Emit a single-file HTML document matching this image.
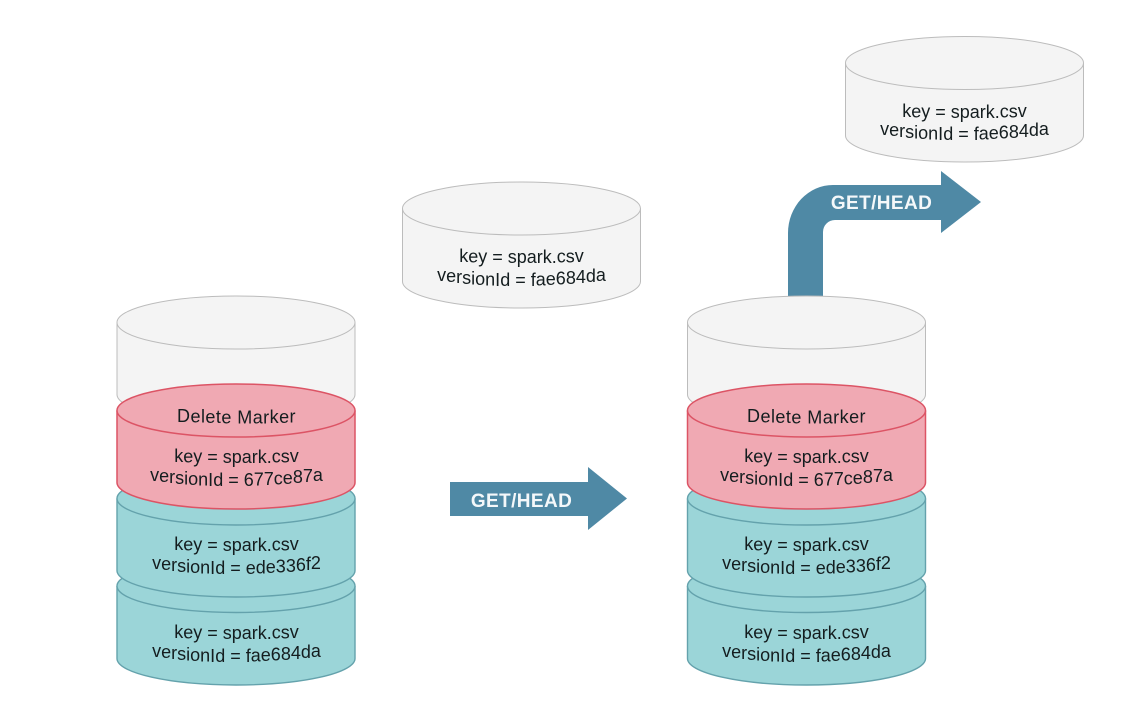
<!DOCTYPE html>
<html>
<head>
<meta charset="utf-8">
<style>
html,body{margin:0;padding:0;background:#fff;width:1148px;height:728px;overflow:hidden}
svg{display:block}
text{font-family:"Liberation Sans",sans-serif;font-size:18px;fill:#141d1f;text-anchor:middle}
.d{letter-spacing:.45px}
.b{font-weight:bold;font-size:19px;fill:#f4f8fa;letter-spacing:.4px}
.g{fill:#f4f4f4;stroke:#bcbcbc;stroke-width:1}
.r{fill:#f0a9b3;stroke:#dc5465;stroke-width:1.5}
.t{fill:#9bd5d8;stroke:#64a2ac;stroke-width:1.4}
</style>
</head>
<body>
<svg width="1148" height="728" viewBox="0 0 1148 728" xmlns="http://www.w3.org/2000/svg">
<!-- left stack -->
<g class="c">
<path class="g" d="M117,322.500A119,26.500 0 0 1 355,322.500V394.500A119,26.500 0 0 1 117,394.500Z"/><path class="g" d="M117,322.500A119,26.500 0 0 0 355,322.500"/>
<path class="t" d="M117,586A119,26.500 0 0 1 355,586V658.500A119,26.500 0 0 1 117,658.500Z"/><path class="t" d="M117,586A119,26.500 0 0 0 355,586"/>
<path class="t" d="M117,498.500A119,26.500 0 0 1 355,498.500V570.500A119,26.500 0 0 1 117,570.500Z"/><path class="t" d="M117,498.500A119,26.500 0 0 0 355,498.500"/>
<path class="r" d="M117,410.500A119,26.500 0 0 1 355,410.500V482.500A119,26.500 0 0 1 117,482.500Z"/><path class="r" d="M117,410.500A119,26.500 0 0 0 355,410.500"/>
</g>
<text class="d" x="236.500" y="422" dy="0 .3 .3 .3 .2 .2 0 0 0 0 -.2 -.2 -.3">Delete Marker</text>
<text x="236.500" y="463" dy="-1 .3 .3 .3 .2 0 0 0 0 0 0 -.2 -.2 -.3 -.3">key = spark.csv</text>
<text x="236.500" y="481" dy="0 1 1 1 .5 .5 .5 .5 0 0 0 0 0 -.5 -.5 -.5 -.5 -1 -1 -1">versionId = 677ce87a</text>
<text x="236.500" y="551" dy="-1 .3 .3 .3 .2 0 0 0 0 0 0 -.2 -.2 -.3 -.3">key = spark.csv</text>
<text x="236.500" y="569" dy="0 1 1 1 .5 .5 .5 .5 0 0 0 0 0 -.5 -.5 -.5 -.5 -1 -1 -1">versionId = ede336f2</text>
<text x="236.500" y="639" dy="-1 .3 .3 .3 .2 0 0 0 0 0 0 -.2 -.2 -.3 -.3">key = spark.csv</text>
<text x="236.500" y="657" dy="0 1 1 1 .5 .5 .5 .5 0 0 0 0 0 -.5 -.5 -.5 -.5 -1 -1 -1">versionId = fae684da</text>

<!-- middle grey -->
<g class="c">
<path class="g" d="M402.500,208.500A119,26.500 0 0 1 640.500,208.500V281.500A119,26.500 0 0 1 402.500,281.500Z"/><path class="g" d="M402.500,208.500A119,26.500 0 0 0 640.500,208.500"/>
</g>
<text x="521.500" y="263" dy="-1 .3 .3 .3 .2 0 0 0 0 0 0 -.2 -.2 -.3 -.3">key = spark.csv</text>
<text x="521.500" y="281" dy="0 1 1 1 .5 .5 .5 .5 0 0 0 0 0 -.5 -.5 -.5 -.5 -1 -1 -1">versionId = fae684da</text>

<!-- top right grey -->
<g class="c">
<path class="g" d="M845.500,63A119,26.500 0 0 1 1083.500,63V135.500A119,26.500 0 0 1 845.500,135.500Z"/><path class="g" d="M845.500,63A119,26.500 0 0 0 1083.500,63"/>
</g>
<text x="964.500" y="118" dy="-1 .3 .3 .3 .2 0 0 0 0 0 0 -.2 -.2 -.3 -.3">key = spark.csv</text>
<text x="964.500" y="135" dy="0 1 1 1 .5 .5 .5 .5 0 0 0 0 0 -.5 -.5 -.5 -.5 -1 -1 -1">versionId = fae684da</text>

<!-- arrows -->
<path fill="#4f89a5" d="M450,482H588V467L627,498.500L588,530V516H450Z"/>
<text class="b" x="521.500" y="507">GET/HEAD</text>
<path fill="#4f89a5" d="M788,296V233A45,48 0 0 1 833,185H941V171L981,202L941,233V220H835A12,12 0 0 0 823,232V296Z"/>
<text class="b" x="881.500" y="209">GET/HEAD</text>

<!-- right stack -->
<g class="c">
<path class="g" d="M687.500,322.500A119,26.500 0 0 1 925.500,322.500V394.500A119,26.500 0 0 1 687.500,394.500Z"/><path class="g" d="M687.500,322.500A119,26.500 0 0 0 925.500,322.500"/>
<path class="t" d="M687.500,586A119,26.500 0 0 1 925.500,586V658.500A119,26.500 0 0 1 687.500,658.500Z"/><path class="t" d="M687.500,586A119,26.500 0 0 0 925.500,586"/>
<path class="t" d="M687.500,498.500A119,26.500 0 0 1 925.500,498.500V570.500A119,26.500 0 0 1 687.500,570.500Z"/><path class="t" d="M687.500,498.500A119,26.500 0 0 0 925.500,498.500"/>
<path class="r" d="M687.500,410.500A119,26.500 0 0 1 925.500,410.500V482.500A119,26.500 0 0 1 687.500,482.500Z"/><path class="r" d="M687.500,410.500A119,26.500 0 0 0 925.500,410.500"/>
</g>
<text class="d" x="806.500" y="422" dy="0 .3 .3 .3 .2 .2 0 0 0 0 -.2 -.2 -.3">Delete Marker</text>
<text x="806.500" y="463" dy="-1 .3 .3 .3 .2 0 0 0 0 0 0 -.2 -.2 -.3 -.3">key = spark.csv</text>
<text x="806.500" y="481" dy="0 1 1 1 .5 .5 .5 .5 0 0 0 0 0 -.5 -.5 -.5 -.5 -1 -1 -1">versionId = 677ce87a</text>
<text x="806.500" y="551" dy="-1 .3 .3 .3 .2 0 0 0 0 0 0 -.2 -.2 -.3 -.3">key = spark.csv</text>
<text x="806.500" y="569" dy="0 1 1 1 .5 .5 .5 .5 0 0 0 0 0 -.5 -.5 -.5 -.5 -1 -1 -1">versionId = ede336f2</text>
<text x="806.500" y="639" dy="-1 .3 .3 .3 .2 0 0 0 0 0 0 -.2 -.2 -.3 -.3">key = spark.csv</text>
<text x="806.500" y="657" dy="0 1 1 1 .5 .5 .5 .5 0 0 0 0 0 -.5 -.5 -.5 -.5 -1 -1 -1">versionId = fae684da</text>
</svg>
</body>
</html>
